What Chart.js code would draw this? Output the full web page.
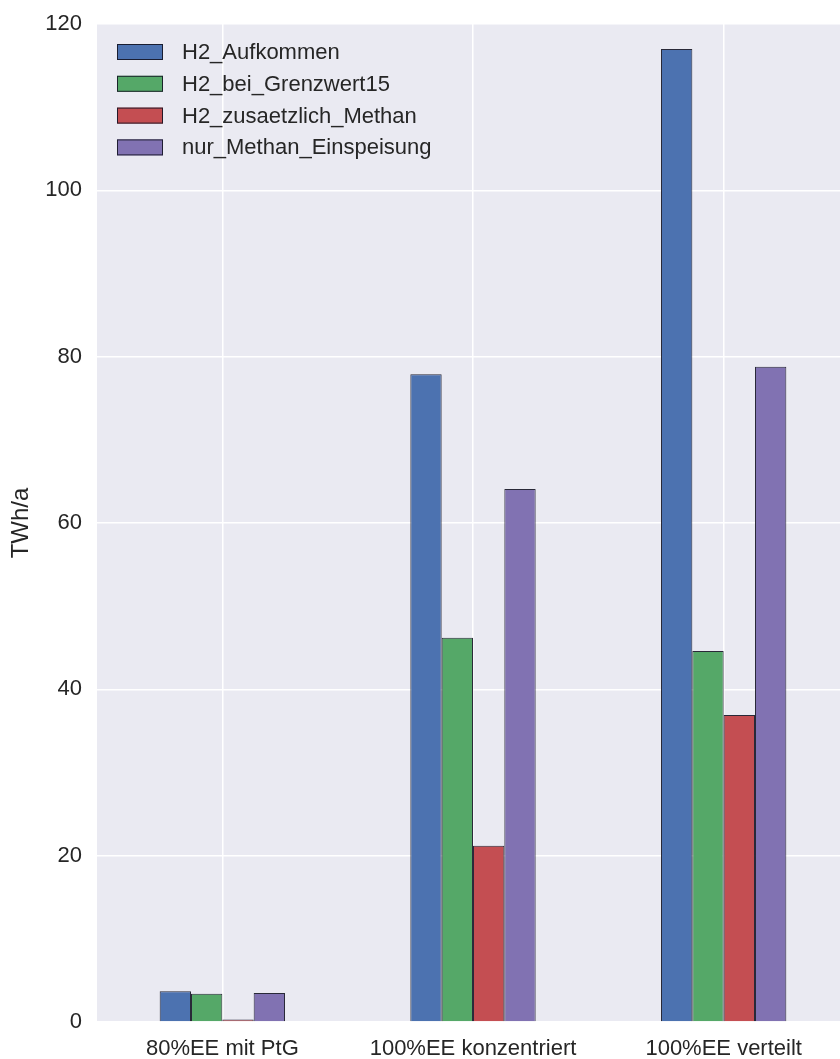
<!DOCTYPE html>
<html>
<head>
<meta charset="utf-8">
<script src="https://cdn.jsdelivr.net/npm/chart.js@4.4.1/dist/chart.umd.min.js"></script>
<style>
  html, body { margin: 0; padding: 0; background: #ffffff; overflow: hidden; }
  /* the plot runs a little past the right edge of the picture */
  #wrap { width: 849px; height: 1059px; position: relative; }
</style>
</head>
<body>
<div id="wrap"><canvas id="chart"></canvas></div>
<script>
const categories = ['80%EE mit PtG', '100%EE konzentriert', '100%EE verteilt'];
const seriesNames = ['H2_Aufkommen', 'H2_bei_Grenzwert15', 'H2_zusaetzlich_Methan', 'nur_Methan_Einspeisung'];
const h2Aufkommen = [3.7, 77.9, 117.0];
const h2Grenzwert15 = [3.4, 46.2, 44.6];
const h2ZusaetzlichMethan = [0.3, 21.2, 36.9];
const nurMethanEinspeisung = [3.5, 64.1, 78.8];
const yTicks = [0, 20, 40, 60, 80, 100, 120];

const colors = ['#4C72B0', '#55A868', '#C44E52', '#8172B2'];
const values = [h2Aufkommen, h2Grenzwert15, h2ZusaetzlichMethan, nurMethanEinspeisung];
const textColor = '#262626';
const edgeColor = 'rgba(20,20,35,0.9)';
const fontFamily = '"Liberation Sans", Arial, Helvetica, sans-serif';

// gray seaborn-style plot background
const plotBackground = {
  id: 'plotBackground',
  beforeDraw(chart) {
    const { ctx, chartArea: a } = chart;
    ctx.save();
    ctx.fillStyle = '#EAEAF2';
    ctx.fillRect(a.left, a.top, a.right - a.left, a.bottom - a.top);
    ctx.restore();
  }
};

// legend stacked in the upper left corner of the plot, no frame
const innerLegend = {
  id: 'innerLegend',
  afterDatasetsDraw(chart) {
    const { ctx, chartArea: a } = chart;
    ctx.save();
    ctx.font = '22px ' + fontFamily;
    ctx.textBaseline = 'middle';
    ctx.textAlign = 'left';
    chart.data.datasets.forEach((ds, i) => {
      const cy = a.top + 28 + i * 31.8;
      const x = a.left + 20;
      ctx.fillStyle = ds.backgroundColor;
      ctx.fillRect(x, cy - 8, 46, 16);
      ctx.strokeStyle = edgeColor;
      ctx.lineWidth = 1;
      ctx.strokeRect(x + 0.5, cy - 7.5, 45, 15);
      ctx.fillStyle = textColor;
      ctx.fillText(ds.label, x + 65, cy + 1);
    });
    ctx.restore();
  }
};

new Chart(document.getElementById('chart').getContext('2d'), {
  type: 'bar',
  data: {
    labels: categories,
    datasets: seriesNames.map((name, i) => ({
      label: name,
      data: values[i],
      backgroundColor: colors[i],
      borderColor: edgeColor,
      borderWidth: 1,
      categoryPercentage: 0.5,
      barPercentage: 1.0
    }))
  },
  options: {
    responsive: true,
    maintainAspectRatio: false,
    animation: false,
    layout: {
      padding: 0
    },
    scales: {
      x: {
        grid: {
          color: '#ffffff',
          lineWidth: 1.5,
          offset: false,
          drawTicks: false
        },
        border: { display: false },
        ticks: {
          color: textColor,
          padding: 14,
          font: { family: fontFamily, size: 22 }
        },
        afterFit: (scale) => { scale.height = 37; }
      },
      y: {
        min: 0,
        max: 120,
        afterBuildTicks: (scale) => { scale.ticks = yTicks.map(v => ({ value: v })); },
        grid: {
          color: '#ffffff',
          lineWidth: 1.5,
          drawTicks: false
        },
        border: { display: false },
        ticks: {
          color: textColor,
          padding: 15,
          font: { family: fontFamily, size: 22 }
        },
        title: {
          display: true,
          text: 'TWh/a',
          color: textColor,
          padding: { top: 7, bottom: 0 },
          font: { family: fontFamily, size: 24 }
        },
        afterFit: (scale) => {
          scale.width = 97;
          scale.paddingTop = 24;
        }
      }
    },
    plugins: {
      legend: { display: false },
      tooltip: { enabled: false }
    }
  },
  plugins: [plotBackground, innerLegend]
});
</script>
</body>
</html>
